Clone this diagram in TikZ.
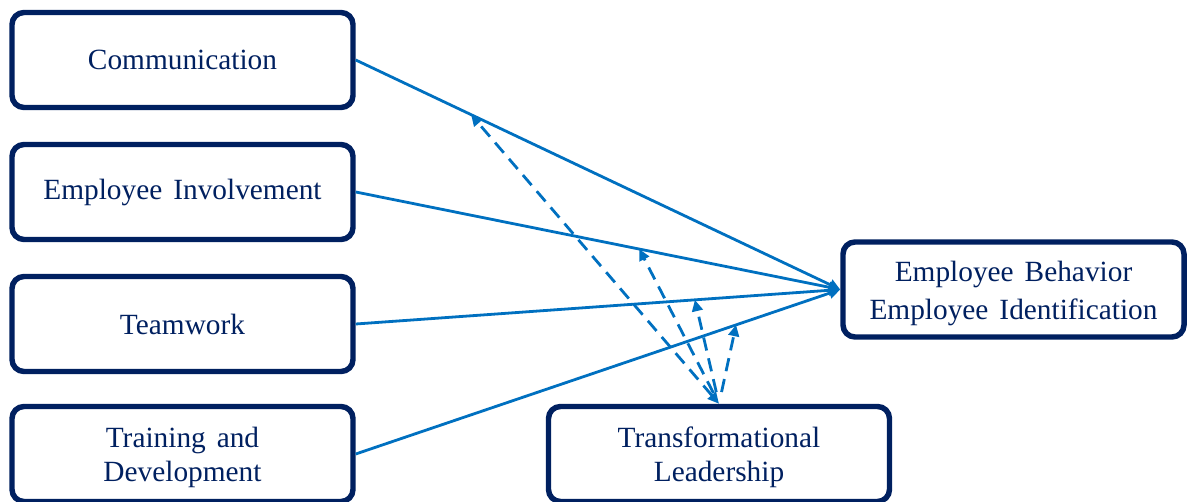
\documentclass[tikz,border=0pt]{standalone}
\usepackage{fontspec}
\setmainfont{Liberation Serif}[WordSpace=1.5]
\usetikzlibrary{arrows.meta,calc}
\definecolor{navy}{RGB}{0,32,96}
\definecolor{link}{RGB}{0,112,192}

\begin{document}
\begin{tikzpicture}[x=0.75pt,y=-0.75pt,
  box/.style={draw=navy, line width=4.1pt, rounded corners=9pt, fill=white,
    minimum width=255.75pt, minimum height=71.25pt, align=center,
    text=navy, font=\fontsize{22}{25.5}\selectfont, inner sep=0pt},
  twoline/.style={text height=#1, text depth=4.8pt},
  tipstyle/.style={-{Triangle[length=8.5pt,width=8pt]}},
  flow/.style={draw=link, line width=2.1pt, tipstyle},
  moderate/.style={draw=link, line width=2.1pt, dash pattern=on 10pt off 6pt, tipstyle}]
\useasboundingbox (0,0) rectangle (1188,502);
\clip (0,0) rectangle (1188,502);

% predictors
\node[box] (c1) at (182.5,60) {Communication};
\node[box] (c2) at (182.5,192) {Employee Involvement};
\node[box] (c3) at (182.5,324) {Teamwork};
\node[box, twoline=46pt] (c4) at (182.5,454) {Training and\\Development};

% outcome and moderator
\node[box, twoline=49.5pt] (out) at (1013.5,289.5) {Employee Behavior\\[2.5pt]Employee Identification};
\node[box, twoline=46pt] (tl) at (719,454) {Transformational\\Leadership};

% direct effects
\draw[flow] (c1.east) -- coordinate[pos=0.238] (m1) (out.west);
\draw[flow] (c2.east) -- coordinate[pos=0.585] (m2) (out.west);
\draw[flow] (c3.east) -- coordinate[pos=0.70] (m3) (out.west);
\draw[flow] (c4.east) -- coordinate[pos=0.785] (m4) (out.west);

% moderating effects
\draw[moderate, {Triangle[length=8.5pt,width=8pt]}-{Triangle[length=8.5pt,width=8pt]}] (tl.north) -- (m1);
\draw[moderate, shorten <=9pt] (tl.north) -- (m2);
\draw[moderate, shorten <=9pt] (tl.north) -- (m3);
\draw[moderate, shorten <=9pt] (tl.north) -- (m4);
\end{tikzpicture}
\end{document}
